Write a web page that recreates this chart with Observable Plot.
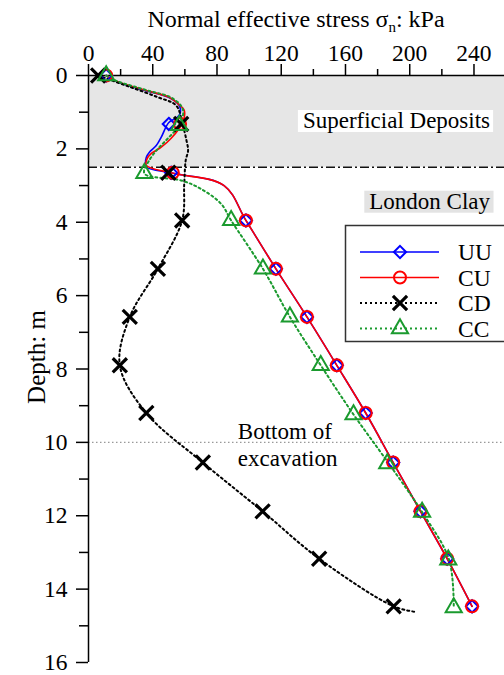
<!DOCTYPE html>
<html><head><meta charset="utf-8">
<script src="https://cdn.jsdelivr.net/npm/d3@7"></script>
<script src="https://cdn.jsdelivr.net/npm/@observablehq/plot@0.6"></script>
<style>
body{margin:0;background:#fff;}
#chart{width:504px;height:675px;overflow:hidden;}
svg{font-family:"Liberation Serif","DejaVu Serif",serif;}
</style></head><body><div id="chart"></div>
<script>
// ---- tick labels ----
const xTicks = [0, 40, 80, 120, 160, 200, 240];
const xMinor = [20, 60, 100, 140, 180, 220];
const yTicks = [0, 2, 4, 6, 8, 10, 12, 14, 16];
const yMinor = [1, 3, 5, 7, 9, 11, 13, 15];

// ---- layers ----
const layerBoundary = [2.5];      // base of superficial deposits, m
const excavationBase = [10];      // bottom of excavation, m

// ---- marker data (depth m, stress kPa) ----
const markDepth = [0, 1.32, 2.65, 3.95, 5.27, 6.58, 7.9, 9.2, 10.55, 11.88, 13.17, 14.47];
const uuMarks = [11, 50, 51.5, 98, 116.7, 136, 154.6, 172.6, 189.7, 206.7, 223.3, 238.8];
const cuMarks = [11, 57, 52.5, 98, 116.7, 136, 154.6, 172.6, 189.7, 206.7, 223.3, 238.8];
const cdMarks = [6, 57.7, 49.7, 58.3, 43.2, 25.7, 19.5, 36, 71.2, 108.4, 143.6, 190];
const ccMarkDepth = [0, 1.36, 2.67, 3.95, 5.27, 6.58, 7.9, 9.24, 10.58, 11.9, 13.2, 14.5];
const ccMarks = [11, 56.5, 34.8, 88.8, 108.6, 125.4, 144.6, 165, 186, 207.7, 224, 227.4];

// ---- line data ----
const uuLineD = [0, 0.14, 0.41, 0.59, 0.82, 1.04, 1.15, 1.28, 1.68, 1.91, 2.09, 2.23, 2.4, 2.5, 2.67, 3.0, 3.95, 5.27, 6.58, 7.9, 9.2, 10.55, 11.88, 13.17, 14.47];
const uuLineV = [11, 16, 35, 49.5, 56.5, 57, 55, 50, 45.3, 42.2, 37.9, 36, 35.5, 36, 53.5, 84.4, 98, 116.7, 136, 154.6, 172.6, 189.7, 206.7, 223.3, 238.8];
const cuLineD = [0, 0.14, 0.41, 0.59, 0.82, 0.95, 1.27, 1.71, 1.95, 2.13, 2.26, 2.45, 2.67, 3.0, 3.95, 5.27, 6.58, 7.9, 9.2, 10.55, 11.88, 13.17, 14.47];
const cuLineV = [11, 16.5, 36, 50, 57, 59.6, 58.8, 51.5, 45.3, 39, 36.6, 36, 53.5, 84.4, 98, 116.7, 136, 154.6, 172.6, 189.7, 206.7, 223.3, 238.8];
const cdLineD = [0, 0.3, 0.59, 0.82, 1.32, 1.77, 2.04, 2.32, 2.95, 3.95, 5.27, 6.58, 7.9, 9.2, 10.55, 11.88, 13.17, 14.47, 14.62];
const cdLineV = [6, 25, 43, 54.6, 58.5, 61, 62, 60.5, 59.6, 58.3, 43.2, 25.7, 19.5, 36, 71.2, 108.4, 143.6, 190, 203.6];
const ccLineD = [0, 0.14, 0.41, 0.59, 0.82, 1.0, 1.36, 1.71, 2.0, 2.3, 2.67, 2.86, 3.09, 3.5, 3.95, 5.27, 6.58, 7.9, 9.24, 10.58, 11.9, 13.2, 14.5];
const ccLineV = [11, 17, 37, 51, 57.5, 59, 56.5, 49.5, 43.2, 38, 34.8, 57.7, 70, 82.6, 88.8, 108.6, 125.4, 144.6, 165, 187, 207.7, 224.5, 227.4];

const series = [
  {name: "UU", color: "#0000ff", dash: null, symbol: "diamond2", r: 5.5, sw: 2},
  {name: "CU", color: "#ff0000", dash: null, symbol: "circle", r: 6, sw: 2},
  {name: "CD", color: "#000000", dash: "2,3", symbol: "times", r: 6.5, sw: 3.2},
  {name: "CC", color: "#1a9a2e", dash: "2,3", symbol: "triangle", r: 6, sw: 2}
];

const plot = Plot.plot({
  width: 504, height: 675,
  marginTop: 75, marginBottom: 13, marginLeft: 88, marginRight: 0,
  style: {fontFamily: "Liberation Serif, serif", fontSize: "23px", background: "white", color: "black"},
  x: {domain: [0, 259]},
  y: {domain: [0, 16], reverse: true},
  marks: [
    Plot.rect(layerBoundary, {x1: 0, x2: 259, y1: 0, y2: d => d, fill: "#e6e6e6"}),
    Plot.ruleY(excavationBase, {stroke: "#999", strokeDasharray: "1.5,2.5", strokeWidth: 1.2}),
    Plot.ruleY(layerBoundary, {stroke: "#111", strokeDasharray: "9,3,2,3", strokeWidth: 1.6}),
    Plot.axisX({anchor: "top", ticks: xTicks, tickSize: 12, tickPadding: 3, label: null, fontSize: 23.5, strokeWidth: 1.5}),
    Plot.axisX({anchor: "top", ticks: xMinor, tickSize: 7, tickFormat: () => "", label: null, strokeWidth: 1.5}),
    Plot.axisY({anchor: "left", ticks: yTicks, tickSize: 12, tickPadding: 9, label: null, fontSize: 23.5, strokeWidth: 1.5}),
    Plot.axisY({anchor: "left", ticks: yMinor, tickSize: 9, tickFormat: () => "", label: null, strokeWidth: 1.5}),
    Plot.ruleY([0], {stroke: "black", strokeWidth: 1.5}),
    Plot.ruleX([0], {stroke: "black", strokeWidth: 1.5}),
    Plot.text(["Superficial Deposits"], {x: 250, y: 1.23, text: d => d, textAnchor: "end", fontSize: 23}),
    Plot.text(["London Clay"], {x: 250, y: 3.43, text: d => d, textAnchor: "end", fontSize: 23}),
    Plot.text(["Bottom of\nexcavation"], {x: 93, y: 10.05, text: d => d, textAnchor: "start", fontSize: 23, lineHeight: 1.17}),
    Plot.line(uuLineD, {x: uuLineV, y: uuLineD, stroke: series[0].color, strokeWidth: 1.6, curve: "catmull-rom"}),
    Plot.line(cuLineD, {x: cuLineV, y: cuLineD, stroke: series[1].color, strokeWidth: 1.6, curve: "catmull-rom"}),
    Plot.line(cdLineD, {x: cdLineV, y: cdLineD, stroke: "black", strokeWidth: 2, strokeDasharray: "2,3", curve: "catmull-rom"}),
    Plot.line(ccLineD, {x: ccLineV, y: ccLineD, stroke: series[3].color, strokeWidth: 2, strokeDasharray: "2,3", curve: "catmull-rom"}),
    Plot.dot(markDepth, {x: uuMarks, y: markDepth, symbol: "diamond2", r: series[0].r, stroke: series[0].color, strokeWidth: 2, fill: "none"}),
    Plot.dot(markDepth, {x: cuMarks, y: markDepth, symbol: "circle", r: series[1].r, stroke: series[1].color, strokeWidth: 2, fill: "none"}),
    Plot.dot(markDepth, {x: cdMarks, y: markDepth, symbol: "times", r: series[2].r, stroke: "black", strokeWidth: 3.2, fill: "none"}),
    Plot.dot(ccMarkDepth, {x: ccMarks, y: ccMarkDepth, symbol: "triangle", r: series[3].r, stroke: series[3].color, strokeWidth: 2, fill: "none"})
  ]
});
document.getElementById("chart").appendChild(plot);

const svg = d3.select(plot);

// background boxes behind region labels
function boxBehind(label, fill) {
  const t = svg.selectAll("text").filter(function() { return this.textContent === label; }).node();
  if (!t) return;
  const b = t.getBBox();
  d3.select(t.parentNode).insert("rect", () => t)
    .attr("transform", t.getAttribute("transform"))
    .attr("x", b.x - 5).attr("y", b.y + 2).attr("width", b.width + 8).attr("height", b.height - 3)
    .attr("fill", fill);
}
boxBehind("Superficial Deposits", "white");
boxBehind("London Clay", "#e3e3e3");

// title
const title = svg.append("text").attr("x", 296).attr("y", 27).attr("text-anchor", "middle")
  .attr("font-size", 24).attr("fill", "black");
title.append("tspan").text("Normal effective stress σ");
title.append("tspan").attr("font-size", 15).attr("dy", 5).text("n");
title.append("tspan").attr("dy", -5).text(": kPa");

// y label
svg.append("text").attr("transform", "translate(45,357) rotate(-90)").attr("text-anchor", "middle")
  .attr("font-size", 25).attr("fill", "black").text("Depth: m");

// legend
const lg = svg.append("g").attr("text-anchor", "start");
lg.append("rect").attr("x", 345.5).attr("y", 225.5).attr("width", 175).attr("height", 116)
  .attr("fill", "white").attr("stroke", "#333").attr("stroke-width", 1.5);
series.forEach((s, i) => {
  const y = 252 + i * 25.5;
  lg.append("line").attr("x1", 360).attr("x2", 439).attr("y1", y).attr("y2", y)
    .attr("stroke", s.color).attr("stroke-width", s.dash ? 2 : 1.6).attr("stroke-dasharray", s.dash);
  const sym = {diamond2: d3.symbolDiamond2, circle: d3.symbolCircle, times: d3.symbolTimes, triangle: d3.symbolTriangle}[s.symbol];
  lg.append("path").attr("transform", `translate(400,${y})`).attr("d", d3.symbol(sym, s.r * s.r * Math.PI)())
    .attr("fill", "none").attr("stroke", s.color).attr("stroke-width", s.sw);
  lg.append("text").attr("x", 458).attr("y", y + 8).attr("text-anchor", "start").attr("font-size", 23.5).attr("fill", "black").text(s.name);
});
</script>
</body></html>
